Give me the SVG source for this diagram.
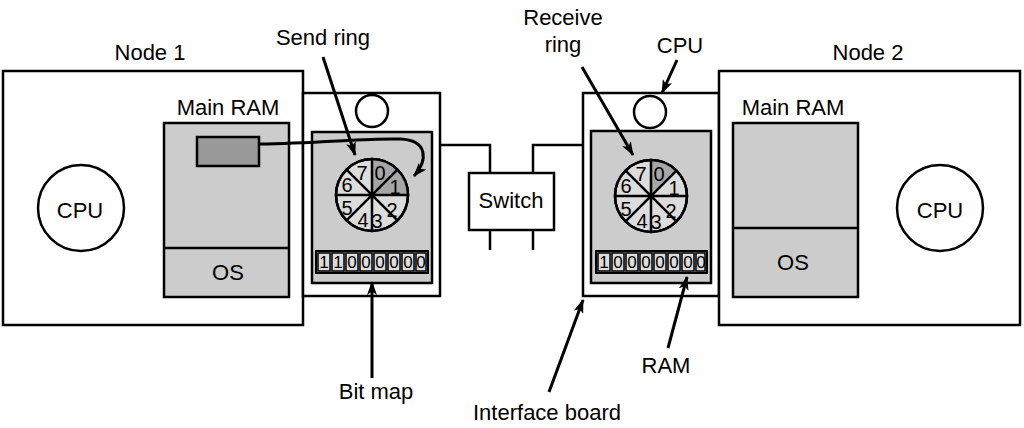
<svg xmlns="http://www.w3.org/2000/svg" width="1024" height="428" viewBox="0 0 1024 428">
<style>
.box{fill:#fff;stroke:#000;stroke-width:2.5}
.gray{fill:#cccccc;stroke:#000;stroke-width:2.5}
.dark{fill:#999999;stroke:#000;stroke-width:2.5}
.ln{fill:none;stroke:#000;stroke-width:2.5}
.arr{fill:none;stroke:#000;stroke-width:3;marker-end:url(#ah)}
text{font-family:"Liberation Sans",Arial,sans-serif;font-size:22px;fill:#000;text-anchor:middle}
.dg{font-size:20px}
.bd{font-size:17px}
.sec{fill:#dcdcdc;stroke:#000;stroke-width:2.5}
.sd{fill:#a6a6a6;stroke:none}
.cell{fill:#dcdcdc;stroke:#000;stroke-width:1.5}
</style>
<defs>
<marker id="ah" markerUnits="userSpaceOnUse" markerWidth="14" markerHeight="10" refX="13" refY="5" orient="auto">
<path d="M0,0 L14,5 L0,10 L3.5,5 Z" fill="#000"/>
</marker>
</defs>

<g id="node1">
<rect class="box" x="3" y="71" width="300" height="254"/>
<text x="150" y="60">Node 1</text>
<circle class="box" cx="81" cy="208" r="43"/>
<text x="80" y="218">CPU</text>
<text x="228" y="115">Main RAM</text>
<rect class="gray" x="164" y="123" width="125" height="174"/>
<line class="ln" x1="164" y1="248" x2="289" y2="248"/>
<text x="228" y="280">OS</text>
<rect class="dark" x="197" y="137" width="62" height="29"/>
</g>

<g id="board1">
<rect class="box" x="303" y="93" width="137" height="203"/>
<circle class="box" cx="372" cy="111" r="16"/>
<rect class="gray" x="312" y="132" width="120" height="151"/>
<g transform="translate(372,195)">
<circle class="sec" r="36"/>
<path class="sd" d="M0,0 L0,-36 A36,36 0 0 1 25.46,-25.46 Z"/>
<path class="sd" d="M0,0 L25.46,-25.46 A36,36 0 0 1 36,0 Z"/>
<path class="ln" d="M0,-36 V36 M-36,0 H36 M-25.46,-25.46 L25.46,25.46 M25.46,-25.46 L-25.46,25.46"/>
<circle class="ln" r="36"/>
<text class="dg" x="8" y="-15">0</text>
<text class="dg" x="-10" y="-15">7</text>
<text class="dg" x="23" y="-1">1</text>
<text class="dg" x="-25" y="-3">6</text>
<text class="dg" x="-25" y="20">5</text>
<text class="dg" x="20" y="22">2</text>
<text class="dg" x="-9" y="32">4</text>
<text class="dg" x="5" y="33">3</text>
</g>
<rect x="316" y="251" width="112" height="22" fill="#b5b5b5" stroke="#000" stroke-width="2"/>
<g>
<rect class="cell" x="318" y="253" width="12" height="18"/><rect class="cell" x="332" y="253" width="12" height="18"/><rect class="cell" x="346" y="253" width="12" height="18"/><rect class="cell" x="360" y="253" width="12" height="18"/><rect class="cell" x="374" y="253" width="12" height="18"/><rect class="cell" x="388" y="253" width="12" height="18"/><rect class="cell" x="402" y="253" width="12" height="18"/><rect class="cell" x="416" y="253" width="10" height="18"/>
<text class="bd" x="324" y="268">1</text><text class="bd" x="338" y="268">1</text><text class="bd" x="352" y="268">0</text><text class="bd" x="366" y="268">0</text><text class="bd" x="380" y="268">0</text><text class="bd" x="394" y="268">0</text><text class="bd" x="408" y="268">0</text><text class="bd" x="421" y="268">0</text>
</g>
</g>

<g id="switch">
<rect class="box" x="469" y="173" width="85" height="57"/>
<text x="511" y="208">Switch</text>
</g>

<g id="board2">
<rect class="box" x="583" y="93" width="136" height="203"/>
<circle class="box" cx="650" cy="112" r="16"/>
<rect class="gray" x="591" y="131" width="120" height="152"/>
<g transform="translate(651,196)">
<circle class="sec" r="36"/>
<path class="sd" d="M0,0 L0,-36 A36,36 0 0 1 25.46,-25.46 Z"/>
<path class="ln" d="M0,-36 V36 M-36,0 H36 M-25.46,-25.46 L25.46,25.46 M25.46,-25.46 L-25.46,25.46"/>
<circle class="ln" r="36"/>
<text class="dg" x="8" y="-15">0</text>
<text class="dg" x="-10" y="-15">7</text>
<text class="dg" x="23" y="-1">1</text>
<text class="dg" x="-25" y="-3">6</text>
<text class="dg" x="-25" y="20">5</text>
<text class="dg" x="20" y="22">2</text>
<text class="dg" x="-9" y="32">4</text>
<text class="dg" x="5" y="33">3</text>
</g>
<rect x="596" y="251" width="111" height="22" fill="#b5b5b5" stroke="#000" stroke-width="2"/>
<g>
<rect class="cell" x="598" y="253" width="12" height="18"/><rect class="cell" x="612" y="253" width="12" height="18"/><rect class="cell" x="626" y="253" width="12" height="18"/><rect class="cell" x="640" y="253" width="12" height="18"/><rect class="cell" x="654" y="253" width="12" height="18"/><rect class="cell" x="668" y="253" width="12" height="18"/><rect class="cell" x="682" y="253" width="12" height="18"/><rect class="cell" x="696" y="253" width="9" height="18"/>
<text class="bd" x="604" y="268">1</text><text class="bd" x="618" y="268">0</text><text class="bd" x="632" y="268">0</text><text class="bd" x="646" y="268">0</text><text class="bd" x="660" y="268">0</text><text class="bd" x="674" y="268">0</text><text class="bd" x="688" y="268">0</text><text class="bd" x="701" y="268">0</text>
</g>
</g>

<g id="node2">
<rect class="box" x="719" y="71" width="301" height="254"/>
<text x="868" y="60">Node 2</text>
<text x="793" y="115">Main RAM</text>
<rect class="gray" x="733" y="123" width="125" height="174"/>
<line class="ln" x1="733" y1="228" x2="858" y2="228"/>
<text x="793" y="270">OS</text>
<circle class="box" cx="940" cy="208" r="43"/>
<text x="940" y="218">CPU</text>
</g>

<g id="labels">
<text x="323" y="45">Send ring</text>
<text x="563" y="25">Receive</text>
<text x="563" y="52">ring</text>
<text x="680" y="53">CPU</text>
<text x="376" y="399">Bit map</text>
<text x="547" y="420">Interface board</text>
<text x="666" y="373">RAM</text>
</g>

<g id="connectors">
<path class="ln" d="M440,145 H490 V173 M583,145 H533 V173 M490,230 V250 M533,230 V250"/>
<path class="arr" stroke-width="2.5" d="M259,144 C320,143 370,138 400,139 C428,140 428,160 414,176"/>
<path class="arr" d="M323,57 L355,155"/>
<path class="arr" d="M582,67 L633,155"/>
<path class="arr" d="M677,60 L662,93"/>
<path class="arr" d="M372,378 L372,282"/>
<path class="arr" d="M549,392 L583,300"/>
<path class="arr" d="M668,348 L687,277"/>
</g>
</svg>
